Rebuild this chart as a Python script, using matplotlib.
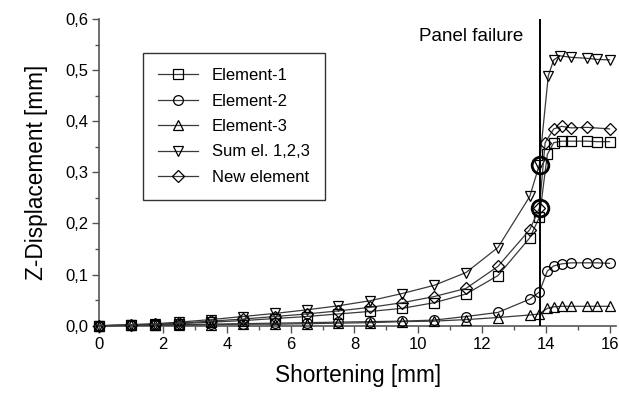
import matplotlib
matplotlib.use("Agg")
import matplotlib.pyplot as plt
from matplotlib.ticker import MultipleLocator, FuncFormatter

plt.rcParams['font.family'] = ['Liberation Sans', 'DejaVu Sans']

# ---- data ----
x_pre = [0, 1, 1.75, 2.5, 3.5, 4.5, 5.5, 6.5, 7.5, 8.5, 9.5, 10.5, 11.5, 12.5, 13.5, 13.8]

el1_x = x_pre + [14.05, 14.25, 14.5, 14.8, 15.3, 15.6, 16.0]
el1_y = [0, 0.001, 0.002, 0.004, 0.007, 0.010, 0.014, 0.018, 0.023, 0.028, 0.034, 0.045,
         0.062, 0.098, 0.172, 0.212, 0.335, 0.358, 0.361, 0.361, 0.361, 0.360, 0.360]

el2_x = x_pre + [14.05, 14.25, 14.5, 14.8, 15.3, 15.6, 16.0]
el2_y = [0, 0.0005, 0.001, 0.002, 0.003, 0.004, 0.005, 0.006, 0.007, 0.008, 0.009, 0.011,
         0.018, 0.026, 0.052, 0.066, 0.107, 0.117, 0.121, 0.123, 0.123, 0.123, 0.122]

el3_x = x_pre + [14.05, 14.25, 14.5, 14.8, 15.3, 15.6, 16.0]
el3_y = [0, 0.0005, 0.001, 0.001, 0.002, 0.003, 0.003, 0.004, 0.005, 0.006, 0.008, 0.009,
         0.012, 0.016, 0.021, 0.023, 0.034, 0.037, 0.038, 0.038, 0.038, 0.038, 0.038]

sum_x = x_pre + [14.08, 14.25, 14.45, 14.8, 15.3, 15.6, 16.0]
sum_y = [0, 0.002, 0.004, 0.007, 0.012, 0.018, 0.024, 0.031, 0.039, 0.049, 0.063, 0.079,
         0.104, 0.153, 0.253, 0.315, 0.489, 0.520, 0.528, 0.525, 0.523, 0.521, 0.520]

new_x = x_pre + [13.98, 14.25, 14.5, 14.8, 15.3, 16.0]
new_y = [0, 0.002, 0.003, 0.005, 0.009, 0.013, 0.018, 0.023, 0.029, 0.036, 0.045, 0.057,
         0.073, 0.116, 0.188, 0.230, 0.358, 0.385, 0.390, 0.387, 0.388, 0.385]

failure_x = 13.82
highlight_y = [0.315, 0.230]

series = [
    ("Element-1", el1_x, el1_y, "s"),
    ("Element-2", el2_x, el2_y, "o"),
    ("Element-3", el3_x, el3_y, "^"),
    ("Sum el. 1,2,3", sum_x, sum_y, "v"),
    ("New element", new_x, new_y, "D"),
]

fig = plt.figure(figsize=(6.19, 3.93), dpi=100)
ax = fig.add_axes([0.1604, 0.1712, 0.8346, 0.7805])

for label, xs, ys, m in series:
    ms = 6.0 if m == "D" else 7.0
    ax.plot(xs, ys, color="#3a3a3a", lw=0.9, marker=m, markersize=ms,
            markerfacecolor="none", markeredgecolor="black", markeredgewidth=0.9,
            label=label, clip_on=False, zorder=3)

ax.axvline(failure_x, color="black", lw=1.4, zorder=4)
ax.plot([failure_x] * len(highlight_y), highlight_y, linestyle="none", marker="o",
        markersize=12, markerfacecolor="none", markeredgecolor="black",
        markeredgewidth=2.0, zorder=5)

ax.text(failure_x - 0.53, 0.565, "Panel failure", ha="right", va="center", fontsize=13.5)

ax.set_xlim(0, 16.2)
ax.set_ylim(0, 0.6)
ax.xaxis.set_major_locator(MultipleLocator(2))
ax.xaxis.set_minor_locator(MultipleLocator(1))
ax.yaxis.set_major_locator(MultipleLocator(0.1))
ax.yaxis.set_minor_locator(MultipleLocator(0.05))
ax.yaxis.set_major_formatter(FuncFormatter(lambda v, p: f"{v:.1f}".replace(".", ",")))

for s in ["top", "right"]:
    ax.spines[s].set_visible(False)
for s in ["left", "bottom"]:
    ax.spines[s].set_color("#555555")
    ax.spines[s].set_linewidth(1.2)
ax.tick_params(which="major", direction="out", length=5, width=1.0, color="#555555",
               labelsize=12, pad=3)
ax.tick_params(which="minor", direction="out", length=3, width=1.0, color="#555555")

ax.set_xlabel("Shortening [mm]", fontsize=16.3, labelpad=9)
ax.set_ylabel("Z-Displacement [mm]", fontsize=16.3, labelpad=12)

leg = ax.legend(loc="upper left", bbox_to_anchor=(143 / 619, 1 - 53 / 393),
                bbox_transform=fig.transFigure, fontsize=12, frameon=True,
                fancybox=False, edgecolor="black", handlelength=2.4,
                handletextpad=0.84, borderpad=0.9, labelspacing=0.63, borderaxespad=0)
leg.get_frame().set_linewidth(1.0)

fig.savefig("out.png", dpi=100)
